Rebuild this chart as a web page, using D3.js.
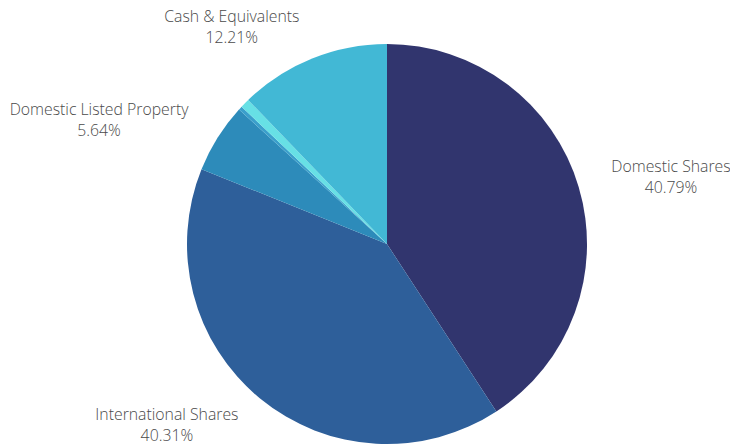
<!DOCTYPE html>
<html>
<head>
<meta charset="utf-8">
<script src="https://cdn.jsdelivr.net/npm/d3@7"></script>
<style>
	body { margin: 0; background: #fff; }
	text { font-family: "Open Sans", sans-serif; font-weight: 300; font-size: 15.8px; fill: #4a4a4a; }
</style>
</head>
<body>
<div id="chart"></div>
<script>
var categories = ["Domestic Shares", "International Shares", "Domestic Listed Property", "Other", "Other Assets", "Cash & Equivalents"];
var values = [40.79, 40.31, 5.64, 0.3, 0.75, 12.21];
var showLabel = [true, true, true, false, false, true];
var colors = ["#31356e", "#2e5f9a", "#2d8bba", "#3a9fcb", "#67e0e5", "#42b8d5"];

(function(){
	var width = 730;
	var height = 446;
	var cx = 387, cy = 244, radius = 200, labelRadius = 234;

	var svg = d3.select('#chart').append('svg')
		.attr('width', width)
		.attr('height', height);

	var g = svg.append('g').attr('transform', 'translate(' + cx + ',' + cy + ')');

	var data = categories.map(function(c, i){
		return {name: c, value: values[i], color: colors[i], label: showLabel[i]};
	});

	var pie = d3.pie().sort(null).value(function(d){ return d.value; });
	var arc = d3.arc().innerRadius(0).outerRadius(radius);
	var labelArc = d3.arc().innerRadius(labelRadius).outerRadius(labelRadius);

	var arcs = pie(data);

	g.selectAll('path')
		.data(arcs)
		.enter()
		.append('path')
		.attr('d', arc)
		.attr('fill', function(d){ return d.data.color; });

	var labels = g.selectAll('g.label')
		.data(arcs.filter(function(d){ return d.data.label; }))
		.enter()
		.append('g')
		.attr('class', 'label');

	labels.each(function(d){
		var sel = d3.select(this);
		var t = sel.append('text').attr('text-anchor', 'middle');
		t.append('tspan').attr('x', 0).attr('y', -5).text(d.data.name);
		t.append('tspan').attr('x', 0).attr('y', 16).text(d.data.value.toFixed(2) + '%');
		var w = t.node().getBBox().width;
		var p = labelArc.centroid(d);
		var mid = (d.startAngle + d.endAngle) / 2;
		var x = mid < Math.PI ? p[0] + w / 2 : p[0] - w / 2;
		sel.attr('transform', 'translate(' + x + ',' + p[1] + ')');
	});
})();
</script>
</body>
</html>
